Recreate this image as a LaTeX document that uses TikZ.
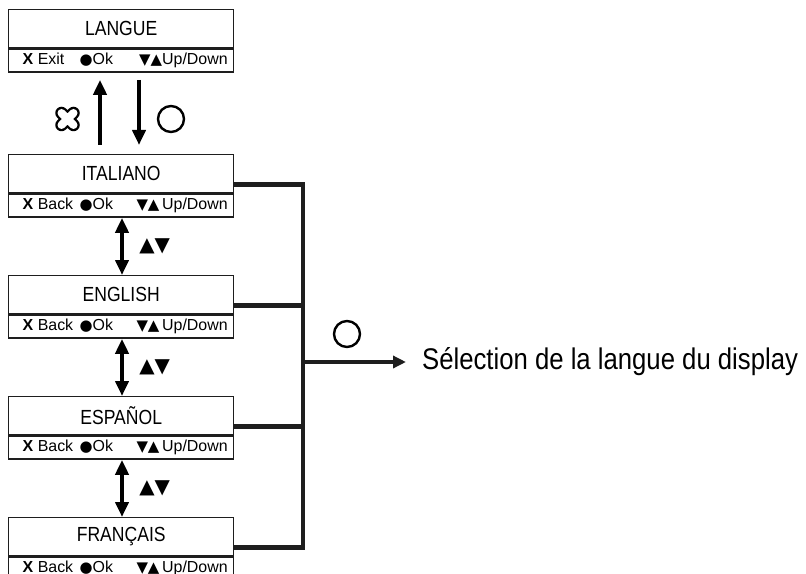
\documentclass[tikz,border=0pt]{standalone}
\usepackage{fontspec}
\setmainfont{Liberation Sans}
\newfontfamily\narrowfont{Liberation Sans}[FakeStretch=0.86]
\newfontfamily\symbolfont{DejaVu Sans}
\usetikzlibrary{arrows.meta}
\definecolor{dark_grey}{RGB}{30,30,30}
\definecolor{white}{RGB}{255,255,255}

\newcommand{\keyrow}[2]{\raisebox{1bp}{\makebox[225bp][l]{\hspace{14bp}\makebox[57bp][l]{\textbf{X} #1}{\symbolfont\fontsize{15}{15}\selectfont ●}Ok\hfill{\symbolfont\fontsize{15}{15}\selectfont ▼▲}#2Up/Down\hspace{6bp}}}}

\tikzset{
	titlebox/.style={draw=dark_grey,line width=1.4bp,minimum width=225bp,minimum height=38bp,inner sep=0pt,anchor=north west,font=\narrowfont\fontsize{20.5}{22}\selectfont},
	keybox/.style={draw=dark_grey,line width=1.4bp,minimum width=225bp,minimum height=23bp,inner sep=0pt,anchor=north west,font=\fontsize{16}{18}\selectfont},
	bigarrow/.style={line width=4.5bp,-{Triangle[length=15bp,width=13bp]}},
	updown/.style={line width=4.5bp,{Triangle[length=15bp,width=13bp]}-{Triangle[length=15bp,width=13bp]}},
	bus/.style={dark_grey,line width=4.5bp},
	oksign/.style={circle,draw,line width=2.4bp,minimum size=26bp,inner sep=0pt}
}

\begin{document}
\begin{tikzpicture}[x=1bp,y=-1bp]
	\useasboundingbox (0,0) rectangle (806,574);

	\node[titlebox] (langue) at (8,9) {LANGUE};
	\node[keybox] (langue_keys) at (langue.south west) {\keyrow{Exit}{}};

	\foreach \n/\t/\y in {italiano/ITALIANO/154,english/ENGLISH/275,espanol/ESPAÑOL/396,francais/FRANÇAIS/517} {
		\node[titlebox] (\n) at (8,\y) {\t};
		\node[keybox] (\n_keys) at (\n.south west) {\keyrow{Back}{\,}};
	}

	% exit / enter
	\draw[bigarrow] ([xshift=92bp,yshift=9bp]italiano.north west) -- ([xshift=92bp,yshift=-7bp]langue_keys.south west);
	\draw[bigarrow] ([xshift=131bp,yshift=-7bp]langue_keys.south west) -- ([xshift=131bp,yshift=9bp]italiano.north west);
	\draw[line width=12.5bp,line cap=round] (61.5,113) -- (73.5,125) (61.5,125) -- (73.5,113);
	\draw[white,line width=8bp,line cap=round] (61.5,113) -- (73.5,125) (61.5,125) -- (73.5,113);
	\node[oksign] (ok_exit) at (171,119) {};

	% up / down
	\foreach \a/\b in {italiano/english,english/espanol,espanol/francais}
		\draw[updown] ([xshift=114bp]\a_keys.south west) -- ([xshift=114bp]\b.north west)
			node[midway,anchor=west,inner sep=0pt,xshift=15bp,font=\symbolfont\fontsize{20}{20}\selectfont] (\a_ud) {▲▼};

	% selection
	\coordinate (bus_mid) at (303,362);
	\draw[bus] ([yshift=9bp]italiano_keys.north east) -| (bus_mid) |- ([yshift=9bp]francais_keys.north east);
	\foreach \n in {english,espanol}
		\draw[bus] ([yshift=9bp]\n_keys.north east) -- ([yshift=9bp]\n_keys.north east -| bus_mid);
	\node[anchor=west,inner xsep=16bp,inner ysep=0pt,font=\narrowfont\fontsize{30}{32}\selectfont] (selection) at (406,362) {Sélection de la langue du display};
	\draw[bus,-{Triangle[length=13bp,width=12bp]}] (bus_mid) -- (selection.west);
	\node[oksign] (ok_select) at (347,334) {};
\end{tikzpicture}
\end{document}
